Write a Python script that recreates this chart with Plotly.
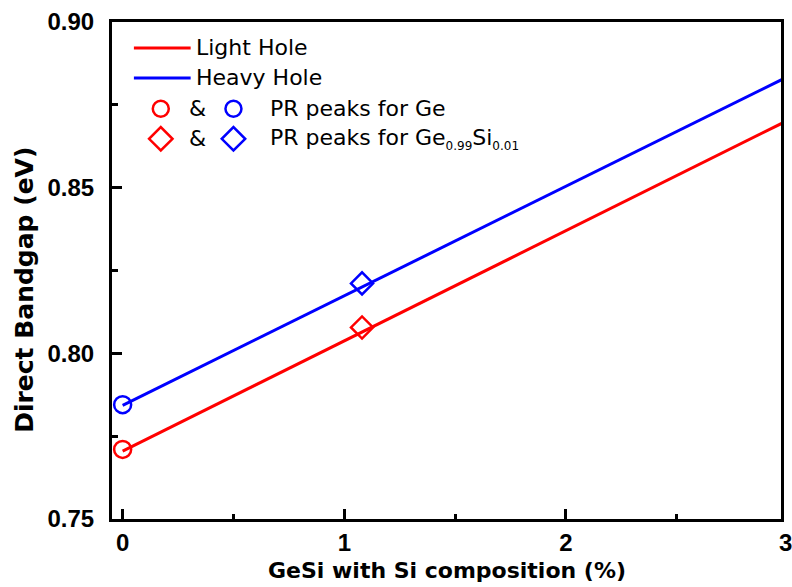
import plotly.graph_objects as go

# ---- data ----
si_line = [0.0, 3.0]                 # Si composition (%) for the model lines
light_hole = [0.7705, 0.8703]        # eV
heavy_hole = [0.7843, 0.8835]        # eV

pr_ge_x = [0.0]
pr_ge_lh = [0.771]
pr_ge_hh = [0.7845]

pr_gesi_x = [1.08]
pr_gesi_lh = [0.8078]
pr_gesi_hh = [0.8211]

x_range = [-0.048, 2.97]
y_range = [0.75, 0.90]
x_tick_labels = ["0", "1", "2", "3"]
y_tick_vals = [0.75, 0.80, 0.85, 0.90]

RED = "#FF0000"
BLUE = "#0000FF"

W, H = 792, 587
ML, MR, MT, MB = 112, 8, 21, 68
PW, PH = W - ML - MR, H - MT - MB


def px(xp):
    return (xp - ML) / PW


def py(yp):
    return (H - MB - yp) / PH


fig = go.Figure()

fig.add_trace(go.Scatter(x=si_line, y=light_hole, mode="lines",
                         line=dict(color=RED, width=3), showlegend=False))
fig.add_trace(go.Scatter(x=si_line, y=heavy_hole, mode="lines",
                         line=dict(color=BLUE, width=3), showlegend=False))

fig.add_trace(go.Scatter(x=pr_ge_x, y=pr_ge_lh, mode="markers", cliponaxis=False,
                         marker=dict(symbol="circle-open", size=17, color=RED,
                                     line=dict(width=2.5, color=RED)), showlegend=False))
fig.add_trace(go.Scatter(x=pr_ge_x, y=pr_ge_hh, mode="markers", cliponaxis=False,
                         marker=dict(symbol="circle-open", size=17, color=BLUE,
                                     line=dict(width=2.5, color=BLUE)), showlegend=False))
fig.add_trace(go.Scatter(x=pr_gesi_x, y=pr_gesi_lh, mode="markers",
                         marker=dict(symbol="diamond-open", size=17, color=RED,
                                     line=dict(width=2.5, color=RED)), showlegend=False))
fig.add_trace(go.Scatter(x=pr_gesi_x, y=pr_gesi_hh, mode="markers",
                         marker=dict(symbol="diamond-open", size=17, color=BLUE,
                                     line=dict(width=2.5, color=BLUE)), showlegend=False))

# ---- hand-made legend (overlay axes in paper units) ----
leg_sym_x = [px(161), px(234), px(161), px(234)]
leg_sym_y = [py(108), py(108), py(138), py(138)]
leg_sym = ["circle-open", "circle-open", "diamond-open", "diamond-open"]
leg_col = [RED, BLUE, RED, BLUE]
leg_size = [16, 16, 18, 18]
fig.add_trace(go.Scatter(x=leg_sym_x, y=leg_sym_y, xaxis="x2", yaxis="y2",
                         mode="markers", cliponaxis=False, showlegend=False,
                         marker=dict(symbol=leg_sym, size=leg_size, color=leg_col,
                                     opacity=1,
                                     line=dict(width=2.5, color=leg_col))))

shapes = [
    dict(type="line", xref="paper", yref="paper", x0=px(134), x1=px(191),
         y0=py(47), y1=py(47), line=dict(color=RED, width=3)),
    dict(type="line", xref="paper", yref="paper", x0=px(134), x1=px(191),
         y0=py(77), y1=py(77), line=dict(color=BLUE, width=3)),
]

LEG_FONT = dict(family="DejaVu Sans", size=22, color="black")
annotations = [
    dict(text="Light Hole", x=px(194), y=py(47), xref="paper", yref="paper",
         xanchor="left", yanchor="middle", showarrow=False, font=LEG_FONT),
    dict(text="Heavy Hole", x=px(194), y=py(77), xref="paper", yref="paper",
         xanchor="left", yanchor="middle", showarrow=False, font=LEG_FONT),
    dict(text="&", x=px(198), y=py(108), xref="paper", yref="paper",
         xanchor="center", yanchor="middle", showarrow=False, font=LEG_FONT),
    dict(text="&", x=px(198), y=py(138), xref="paper", yref="paper",
         xanchor="center", yanchor="middle", showarrow=False, font=LEG_FONT),
    dict(text="PR peaks for Ge", x=px(269), y=py(108), xref="paper", yref="paper",
         xanchor="left", yanchor="middle", showarrow=False, font=LEG_FONT),
    dict(text="PR peaks for Ge<sub><span style='font-size:12px'>0.99</span></sub>Si"
              "<sub><span style='font-size:12px'>0.01</span></sub>",
         x=px(269), y=py(138), xref="paper", yref="paper",
         xanchor="left", yanchor="middle", showarrow=False, font=LEG_FONT),
    # axis titles
    dict(text="Direct Bandgap (eV)", x=px(24), y=py(289), xref="paper", yref="paper",
         xanchor="center", yanchor="middle", textangle=-90, showarrow=False,
         font=dict(family="DejaVu Sans", size=25, color="black", weight="bold")),
    dict(text="GeSi with Si composition (%)", x=0.5, y=py(571), xref="paper", yref="paper",
         xanchor="center", yanchor="middle", showarrow=False,
         font=dict(family="DejaVu Sans", size=22, color="black", weight="bold")),
    # last x tick label sits just past the right frame
    dict(text=x_tick_labels[3], x=(3 - x_range[0]) / (x_range[1] - x_range[0]), y=py(543),
         xref="paper", yref="paper", xanchor="center", yanchor="middle", showarrow=False,
         xshift=-2,
         font=dict(family="Liberation Sans", size=24, color="black", weight="bold")),
]

TICK_FONT = dict(family="Liberation Sans", size=24, color="black", weight="bold")

fig.update_layout(
    width=W, height=H,
    margin=dict(l=ML, r=MR, t=MT, b=MB, pad=0),
    paper_bgcolor="white", plot_bgcolor="white",
    showlegend=False,
    shapes=shapes,
    annotations=annotations,
    xaxis=dict(range=x_range, showline=True, linewidth=3, linecolor="black", mirror=True,
               ticks="inside", ticklen=10, tickwidth=2.5, tickcolor="black",
               tickvals=[0, 1, 2], ticktext=x_tick_labels[:3],
               minor=dict(ticks="inside", ticklen=5, tickwidth=2.5, tickcolor="black",
                          tickvals=[0.5, 1.5, 2.5]),
               showgrid=False, zeroline=False, tickfont=TICK_FONT, ticklabelstandoff=0),
    yaxis=dict(range=y_range, showline=True, linewidth=3, linecolor="black", mirror=True,
               ticks="inside", ticklen=10, tickwidth=2.5, tickcolor="black",
               tickvals=y_tick_vals, tickformat=".2f",
               minor=dict(ticks="inside", ticklen=6, tickwidth=2.5, tickcolor="black",
                          tickvals=[0.775, 0.825, 0.875]),
               showgrid=False, zeroline=False, tickfont=TICK_FONT, ticklabelstandoff=10),
    xaxis2=dict(overlaying="x", range=[0, 1], visible=False, fixedrange=True),
    yaxis2=dict(overlaying="y", range=[0, 1], visible=False, fixedrange=True),
)

fig.write_html("out.html")
